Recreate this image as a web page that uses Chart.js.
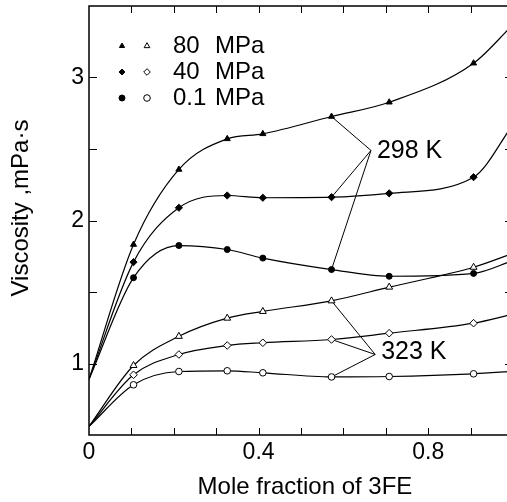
<!DOCTYPE html>
<html>
<head>
<meta charset="utf-8">
<script src="https://cdn.jsdelivr.net/npm/chart.js@4.4.1/dist/chart.umd.min.js"></script>
<style>
  html, body { margin: 0; padding: 0; background: #fff; overflow: hidden; }
  #wrap { width: 516px; height: 502px; }
</style>
</head>
<body>
<div id="wrap"><canvas id="chart" width="516" height="502"></canvas></div>
<script>
// mole fraction of 3FE (first = pure fluid, last = where curve leaves the frame)
const moleFrac = [0, 0.105, 0.212, 0.326, 0.41, 0.572, 0.708, 0.907, 1.0];

// viscosity, mPa·s  -- 298 K
const visc298_80 = [0.89, 1.832, 2.357, 2.571, 2.606, 2.727, 2.827, 3.10, 3.37];
const visc298_40 = [0.89, 1.709, 2.089, 2.175, 2.159, 2.163, 2.19, 2.303, 2.67];
const visc298_01 = [0.89, 1.60, 1.825, 1.797, 1.737, 1.657, 1.61, 1.63, 1.72];
// 323 K
const visc323_80 = [0.56, 0.986, 1.19, 1.317, 1.364, 1.438, 1.534, 1.673, 1.77];
const visc323_40 = [0.56, 0.921, 1.063, 1.126, 1.145, 1.168, 1.212, 1.282, 1.345];
const visc323_01 = [0.56, 0.851, 0.944, 0.949, 0.935, 0.906, 0.909, 0.928, 0.945];

const pressures = ["80", "40", "0.1"];
const xTickShown = [0, 0.4, 0.8];
const yTickShown = [1, 2, 3];

const FONT = '"Liberation Sans", Arial, Helvetica, sans-serif';
Chart.defaults.font.family = FONT;
Chart.defaults.color = "#000";

const lastIdx = moleFrac.length - 1;
const toPoints = arr => arr.map((v, i) => ({ x: moleFrac[i], y: v }));

// marker shown only on measured points, not on the curve ends
function makeSeries(values, style, filled, r) {
  return {
    data: toPoints(values),
    borderColor: "#000",
    borderWidth: 1.2,
    backgroundColor: filled ? "#000" : "#fff",
    pointStyle: style,
    pointRadius: ctx => (ctx.dataIndex === 0 || ctx.dataIndex === lastIdx) ? 0 : r,
    pointBorderWidth: 1,
    pointBorderColor: "#000",
    pointBackgroundColor: filled ? "#000" : "#fff",
    cubicInterpolationMode: "monotone",
    fill: false
  };
}

const datasets = [
  makeSeries(visc298_80, "triangle", true, 3.5),
  makeSeries(visc298_40, "rectRot", true, 3.6),
  makeSeries(visc298_01, "circle", true, 3),
  makeSeries(visc323_80, "triangle", false, 4),
  makeSeries(visc323_40, "rectRot", false, 3.8),
  makeSeries(visc323_01, "circle", false, 3.3)
];

// leader lines point to the 5th measured point (x ≈ 0.57)
const notes = [
  { text: "298 K", x: 0.665, y: 2.49, sets: [0, 1, 2], dy: 1 },
  { text: "323 K", x: 0.675, y: 1.063, sets: [3, 4, 5], dy: -2 }
];

const decorPlugin = {
  id: "decor",
  beforeDatasetsDraw(chart) {
    const { ctx, chartArea: a, scales: { x, y } } = chart;
    ctx.save();
    ctx.strokeStyle = "#000";
    ctx.lineWidth = 1.5;
    ctx.strokeRect(a.left, a.top, a.right - a.left, a.bottom - a.top);

    // inward ticks on all four sides
    ctx.lineWidth = 1;
    ctx.beginPath();
    x.ticks.forEach(t => {
      if (t.value <= 0.001 || t.value >= 0.999) return;
      const px = Math.round(x.getPixelForValue(t.value)) + 0.5;
      ctx.moveTo(px, a.bottom); ctx.lineTo(px, a.bottom - 7);
      ctx.moveTo(px, a.top); ctx.lineTo(px, a.top + 7);
    });
    y.ticks.forEach(t => {
      if (t.value <= 0.501 || t.value >= 3.499) return;
      const py = Math.round(y.getPixelForValue(t.value)) + 0.5;
      ctx.moveTo(a.left, py); ctx.lineTo(a.left + 8, py);
      ctx.moveTo(a.right, py); ctx.lineTo(a.right - 8, py);
    });
    ctx.stroke();

    // leader lines of the temperature notes
    ctx.lineWidth = 1;
    notes.forEach(n => {
      const ax = x.getPixelForValue(n.x), ay = y.getPixelForValue(n.y);
      ctx.beginPath();
      n.sets.forEach(i => {
        const p = chart.getDatasetMeta(i).data[5];
        ctx.moveTo(ax, ay);
        ctx.lineTo(p.x, p.y);
      });
      ctx.stroke();
    });
    ctx.restore();
  },
  afterDraw(chart) {
    const { ctx, scales: { x, y } } = chart;
    ctx.save();
    ctx.fillStyle = "#000";
    ctx.strokeStyle = "#000";

    // notes text
    ctx.font = "25px " + FONT;
    ctx.textAlign = "left";
    ctx.textBaseline = "middle";
    notes.forEach(n => {
      ctx.fillText(n.text, x.getPixelForValue(n.x) + 6, y.getPixelForValue(n.y) + n.dy);
    });

    // legend: filled = 298 K marker, open = 323 K marker
    const rowY = [46, 72, 98];
    ctx.font = "24px " + FONT;
    pressures.forEach((p, i) => {
      [i, i + 3].forEach((di, k) => {
        const ds = chart.data.datasets[di];
        ctx.fillStyle = ds.pointBackgroundColor;
        ctx.strokeStyle = "#000";
        Chart.helpers.drawPoint(ctx, {
          pointStyle: ds.pointStyle,
          radius: k === 0 ? 3 : 3.3,
          rotation: 0,
          borderWidth: 1
        }, k === 0 ? 122 : 147, rowY[i]);
      });
      ctx.fillStyle = "#000";
      ctx.fillText(p, 173, rowY[i]);
      ctx.fillText("MPa", 215, rowY[i]);
    });

    // axis titles
    ctx.font = "24px " + FONT;
    ctx.textAlign = "center";
    ctx.fillText("Mole fraction of 3FE", 305, 487);
    ctx.translate(21, 208);
    ctx.rotate(-Math.PI / 2);
    ctx.fillText("Viscosity ,mPa·s", 0, 0);
    ctx.restore();
  }
};

new Chart(document.getElementById("chart"), {
  type: "line",
  data: { datasets },
  options: {
    responsive: false,
    animation: false,
    devicePixelRatio: 1,
    layout: { padding: { left: 0, right: 3, top: 6, bottom: 0 } },
    plugins: { legend: { display: false }, tooltip: { enabled: false } },
    scales: {
      x: {
        type: "linear",
        min: 0,
        max: 1,
        grid: { display: false, drawTicks: false },
        border: { display: false },
        afterFit: s => { s.height = 67; s.paddingLeft = 0; s.paddingRight = 0; },
        ticks: {
          stepSize: 0.1,
          autoSkip: false,
          maxRotation: 0,
          padding: 4,
          font: { size: 23 },
          callback: v => {
            const hit = xTickShown.find(t => Math.abs(t - v) < 1e-6);
            return hit === undefined ? "" : String(hit);
          }
        }
      },
      y: {
        type: "linear",
        min: 0.5,
        max: 3.5,
        grid: { display: false, drawTicks: false },
        border: { display: false },
        afterFit: s => { s.width = 89; s.paddingTop = 0; s.paddingBottom = 0; },
        ticks: {
          stepSize: 0.5,
          autoSkip: false,
          padding: 5,
          font: { size: 23 },
          callback: v => {
            const hit = yTickShown.find(t => Math.abs(t - v) < 1e-6);
            return hit === undefined ? "" : String(hit);
          }
        }
      }
    }
  },
  plugins: [decorPlugin]
});
</script>
</body>
</html>
